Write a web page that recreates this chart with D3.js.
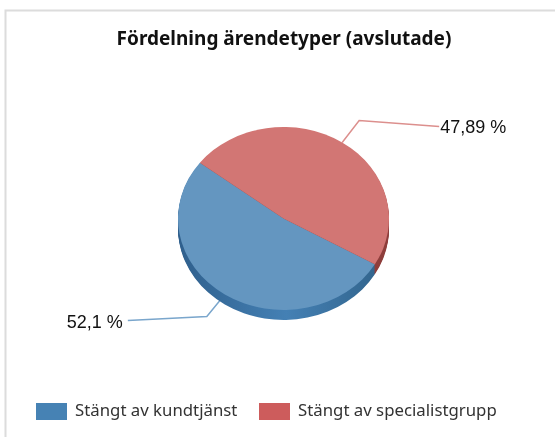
<!DOCTYPE html>
<html>
<head>
<meta charset="utf-8">
<script src="https://cdnjs.cloudflare.com/ajax/libs/d3/7.8.5/d3.min.js"></script>
<style>
  html, body { margin: 0; padding: 0; background: #fff; }
  /* the reference is a soft, rescaled screenshot */
  svg { display: block; filter: blur(0.4px); }
</style>
</head>
<body>
<div id="chart"></div>
<script>
const categories = ["Stängt av kundtjänst", "Stängt av specialistgrupp"];
const values = [52.1, 47.89];
const valueLabels = ["52,1 %", "47,89 %"];
const topColors = ["#6496c0", "#d27674"];
const sideColors = ["#3a6f9f", "#8f3f3d"];
const legendColors = ["#4682b4", "#cd5c5c"];

const width = 555, height = 437;
const cx = 283.5, cy = 218.5, rx = 105.5, ry = 91.5, depth = 10;

const svg = d3.select("#chart").append("svg")
  .attr("width", width)
  .attr("height", height);

// frame, only top and left are visible in the crop
svg.append("path")
  .attr("d", d3.line()([[5.5, height], [5.5, 10.5], [width, 10.5]]))
  .attr("fill", "none")
  .attr("stroke", "#dcdcdc")
  .attr("stroke-width", 2);

svg.append("text")
  .attr("x", 284)
  .attr("y", 45)
  .attr("text-anchor", "middle")
  .attr("font-family", "Noto Sans")
  .attr("font-weight", "bold")
  .attr("font-size", 19)
  .attr("fill", "#111")
  .text("Fördelning ärendetyper (avslutade)");

// blue starts at the lower right boundary and runs clockwise
const startAngle = 120 * Math.PI / 180;
const pie = d3.pie().sort(null).startAngle(startAngle).endAngle(startAngle + 2 * Math.PI);
const slices = pie(values);
const arc = d3.arc().innerRadius(0).outerRadius(rx);

const defs = svg.append("defs");
const grad = defs.append("linearGradient").attr("id", "sideBlue");
grad.append("stop").attr("offset", "0%").attr("stop-color", "#2f5f8c");
grad.append("stop").attr("offset", "55%").attr("stop-color", "#4480b4");
grad.append("stop").attr("offset", "100%").attr("stop-color", "#33668f");

const squash = `scale(1,${ry / rx})`;

// side wall: same slices stacked downwards, deepest first
const wall = svg.append("g");
d3.range(depth, 0, -1).forEach(dy => {
  wall.append("g")
    .attr("transform", `translate(${cx},${cy + dy}) ${squash}`)
    .selectAll("path").data(slices).enter().append("path")
    .attr("d", arc)
    .attr("fill", (d, i) => i === 0 ? "url(#sideBlue)" : sideColors[i]);
});

const face = svg.append("g").attr("transform", `translate(${cx},${cy}) ${squash}`);
face.selectAll("path").data(slices).enter().append("path")
  .attr("d", arc)
  .attr("fill", (d, i) => topColors[i]);

// leader lines start at the middle of each slice's rim
const rimPoint = d => {
  const a = (d.startAngle + d.endAngle) / 2;
  return [cx + rx * Math.sin(a), cy - ry * Math.cos(a)];
};
const leaderOffsets = [
  { elbow: [-18, 22], end: [-97, 26], stroke: "#7aa6cc", labelDx: -5, anchor: "end" },
  { elbow: [17, -22], end: [97, -16], stroke: "#dc8f8d", labelDx: 1, anchor: "start" }
];

// drawn under the pie so the blue leader tucks behind the wall
const leaders = svg.insert("g", "g");
slices.forEach((d, i) => {
  const p = rimPoint(d);
  const o = leaderOffsets[i];
  const elbow = [p[0] + o.elbow[0], p[1] + o.elbow[1]];
  const end = [p[0] + o.end[0], p[1] + o.end[1]];
  leaders.append("path")
    .attr("d", d3.line()([p, elbow, end]))
    .attr("fill", "none")
    .attr("stroke", o.stroke)
    .attr("stroke-width", 1.5);
  svg.append("text")
    .attr("x", end[0] + o.labelDx)
    .attr("y", end[1] + 7)
    .attr("text-anchor", o.anchor)
    .attr("font-family", "Liberation Sans")
    .attr("font-size", 18)
    .attr("fill", "#111")
    .text(valueLabels[i]);
});

// legend
const legendX = [36, 259];
const legend = svg.selectAll("g.legend").data(categories).enter().append("g")
  .attr("class", "legend")
  .attr("transform", (d, i) => `translate(${legendX[i]},403)`);
legend.append("rect")
  .attr("width", 31)
  .attr("height", 17)
  .attr("fill", (d, i) => legendColors[i]);
legend.append("text")
  .attr("x", 39)
  .attr("y", 13)
  .attr("font-family", "Noto Sans")
  .attr("font-size", 16.8)
  .attr("fill", "#333")
  .text(d => d);
</script>
</body>
</html>
